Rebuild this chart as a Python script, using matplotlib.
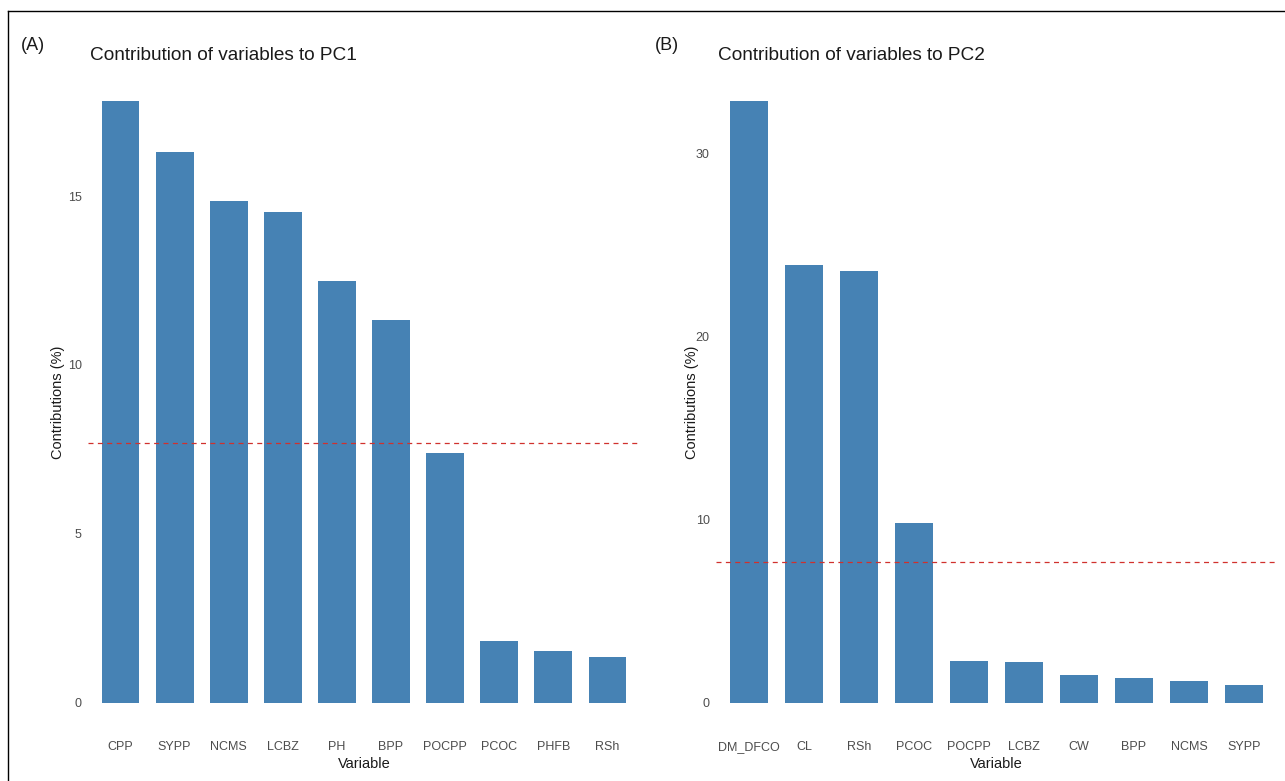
import matplotlib
matplotlib.use("Agg")
import matplotlib.pyplot as plt
from matplotlib.lines import Line2D

plt.rcParams['font.family'] = ['Liberation Sans', 'DejaVu Sans']

# Contributions of variables (%)
pc1_vars = ['CPP', 'SYPP', 'NCMS', 'LCBZ', 'PH', 'BPP', 'POCPP', 'PCOC', 'PHFB', 'RSh']
pc1_vals = [17.81, 16.30, 14.85, 14.53, 12.49, 11.33, 7.40, 1.83, 1.54, 1.36]

pc2_vars = ['DM_DFCO', 'CL', 'RSh', 'PCOC', 'POCPP', 'LCBZ', 'CW', 'BPP', 'NCMS', 'SYPP']
pc2_vals = [32.84, 23.90, 23.57, 9.82, 2.29, 2.24, 1.53, 1.36, 1.20, 0.98]

# expected average contribution (13 variables)
n_vars = 13
threshold = 100 / n_vars

W, H = 1285, 781
fig = plt.figure(figsize=(W / 100, H / 100), dpi=100)

bar_color = '#4682B4'
tick_color = '#4D4D4D'


def draw_panel(left_px, right_px, names, vals, yticks, title, tag, tag_x, ylab_x):
    top_px, bottom_px = 71, 733
    ax = fig.add_axes([left_px / W, (H - bottom_px) / H,
                       (right_px - left_px) / W, (bottom_px - top_px) / H])
    x = list(range(len(names)))
    ax.bar(x, vals, width=0.7, color=bar_color)
    ax.axhline(threshold, color='#D0312D', linestyle=(0, (4, 3.5)), linewidth=0.9)

    vmax = max(vals)
    ax.set_xlim(-0.6, len(names) - 0.4)
    ax.set_ylim(-0.05 * vmax, 1.05 * vmax)

    ax.set_xticks(x)
    ax.set_xticklabels(names)
    ax.set_yticks(yticks)
    ax.tick_params(length=0, labelsize=9, labelcolor=tick_color)
    ax.tick_params(axis='x', pad=12.5)
    ax.tick_params(axis='y', pad=4.5)
    # keep labels on a common baseline (underscore would push DM_DFCO down)
    for lab in ax.get_xticklabels():
        lab.set_verticalalignment('baseline')
    for s in ax.spines.values():
        s.set_visible(False)

    ax.set_xlabel('Variable', fontsize=10.5, color='#1A1A1A')
    ax.xaxis.set_label_coords(0.5, -0.036)
    ax.set_ylabel('Contributions (%)', fontsize=10.5, color='#1A1A1A')
    ax.yaxis.set_label_coords((ylab_x - left_px) / (right_px - left_px), 0.5)

    fig.text(left_px / W + 0.0015, 1 - 55 / H, title, fontsize=13.7,
             ha='left', va='center', color='#1A1A1A')
    fig.text(tag_x / W, 1 - 45 / H, tag, fontsize=13,
             ha='left', va='center', color='#1A1A1A')
    return ax


draw_panel(88, 640, pc1_vars, pc1_vals, [0, 5, 10, 15],
           'Contribution of variables to PC1', '(A)', 21, 65)
draw_panel(716, 1277, pc2_vars, pc2_vals, [0, 10, 20, 30],
           'Contribution of variables to PC2', '(B)', 655, 699)

# thin frame visible at top and left of the original image
fig.add_artist(Line2D([8 / W, 1.0], [1 - 11 / H, 1 - 11 / H], color='black', linewidth=1))
fig.add_artist(Line2D([8 / W, 8 / W], [0.0, 1 - 11 / H], color='black', linewidth=1))

fig.savefig('out.png', dpi=100)
